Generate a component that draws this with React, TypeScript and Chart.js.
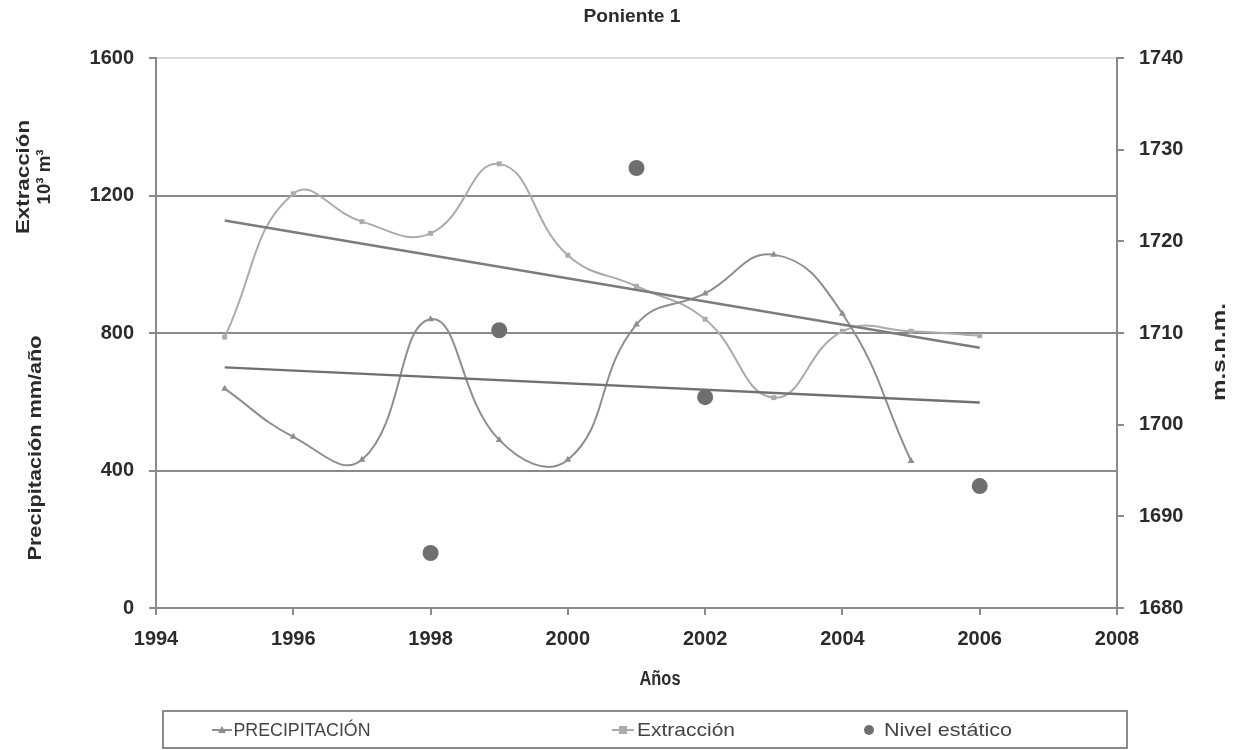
import React, { useEffect, useRef } from "react";
import { Chart, registerables } from "chart.js";

Chart.register(...registerables);

// ---- data ----
const precipYears = [1995, 1996, 1997, 1998, 1999, 2000, 2001, 2002, 2003, 2004, 2005];
const precipitacion = [638, 498, 431, 840, 489, 431, 825, 915, 1028, 856, 428];

const extraccionYears = [1995, 1996, 1997, 1998, 1999, 2000, 2001, 2002, 2003, 2004, 2005, 2006];
const extraccion = [788, 1205, 1124, 1090, 1292, 1026, 936, 840, 612, 805, 805, 792];

const nivelYears = [1998, 1999, 2001, 2002, 2006];
const nivelEstatico = [1686, 1710.3, 1728, 1703, 1693.3];

const trendYears = [1995, 2006];
const precipTrend = [700, 598];
const extraccionTrend = [1127, 757];

const xTicks = [1994, 1996, 1998, 2000, 2002, 2004, 2006, 2008];
const leftTicks = [0, 400, 800, 1200, 1600];
const rightTicks = [1680, 1690, 1700, 1710, 1720, 1730, 1740];

const TITLE = "Poniente 1";
const X_TITLE = "Años";
const LEFT_TITLE_1 = ["Extracción", "10³ m³"];
const LEFT_TITLE_2 = "Precipitación mm/año";
const RIGHT_TITLE = "m.s.n.m.";
const LEGEND = ["PRECIPITACIÓN", "Extracción", "Nivel estático"];

const pts = (xs: number[], ys: number[]) => xs.map((x, i) => ({ x, y: ys[i] }));

const C_PREC = "#8e8e8e";
const C_EXT = "#ababab";
const C_NIV = "#6f6f6f";
const C_TREND = "#7c7c7c";
const C_AXIS = "#8a8a8a";
const C_TEXT = "#2b2b2b";
const FONT = "'Liberation Sans', Arial, sans-serif";

function drawFit(
  ctx: CanvasRenderingContext2D,
  text: string,
  cx: number,
  cy: number,
  rot: number,
  font: string,
  width: number
) {
  ctx.save();
  ctx.font = font;
  ctx.textAlign = "center";
  ctx.textBaseline = "middle";
  const w = ctx.measureText(text).width;
  ctx.translate(cx, cy);
  ctx.rotate(rot);
  ctx.scale(width / w, 1);
  ctx.fillText(text, 0, 0);
  ctx.restore();
}

const decoPlugin = {
  id: "deco",
  afterDraw(chart: any) {
    const ctx = chart.ctx as CanvasRenderingContext2D;
    ctx.save();
    ctx.fillStyle = C_TEXT;
    const bold = `bold 19px ${FONT}`;
    drawFit(ctx, TITLE, 632, 17, 0, bold, 97);
    drawFit(ctx, X_TITLE, 660, 679, 0, `bold 20px ${FONT}`, 41);
    drawFit(ctx, LEFT_TITLE_1[0], 24, 177, -Math.PI / 2, bold, 114);
    drawFit(ctx, LEFT_TITLE_1[1], 45, 177, -Math.PI / 2, bold, 55);
    drawFit(ctx, LEFT_TITLE_2, 36, 448, -Math.PI / 2, bold, 225);
    drawFit(ctx, RIGHT_TITLE, 1220, 352, -Math.PI / 2, bold, 98);

    // legend box
    ctx.strokeStyle = C_AXIS;
    ctx.lineWidth = 2;
    ctx.strokeRect(163, 711, 964, 37);
    const ly = 730;
    ctx.fillStyle = "#444";
    // precip
    ctx.strokeStyle = C_PREC;
    ctx.lineWidth = 2;
    ctx.beginPath();
    ctx.moveTo(212, ly);
    ctx.lineTo(232, ly);
    ctx.stroke();
    ctx.fillStyle = C_PREC;
    ctx.beginPath();
    ctx.moveTo(222, ly - 4);
    ctx.lineTo(226, ly + 3);
    ctx.lineTo(218, ly + 3);
    ctx.closePath();
    ctx.fill();
    ctx.fillStyle = "#444";
    const lf = `19px ${FONT}`;
    drawFit(ctx, LEGEND[0], 234 + 68, ly + 1, 0, lf, 137);
    // extraccion
    ctx.strokeStyle = C_EXT;
    ctx.beginPath();
    ctx.moveTo(612, ly);
    ctx.lineTo(634, ly);
    ctx.stroke();
    ctx.fillStyle = C_EXT;
    ctx.fillRect(619, ly - 4, 8, 8);
    ctx.fillStyle = "#444";
    drawFit(ctx, LEGEND[1], 637 + 49, ly + 1, 0, lf, 98);
    // nivel
    ctx.fillStyle = C_NIV;
    ctx.beginPath();
    ctx.arc(869, ly, 5, 0, Math.PI * 2);
    ctx.fill();
    ctx.fillStyle = "#444";
    drawFit(ctx, LEGEND[2], 884 + 64, ly + 1, 0, lf, 128);
    ctx.restore();
  },
};

export default function App() {
  const ref = useRef<HTMLCanvasElement>(null);
  useEffect(() => {
    if (!ref.current) return;
    const tickFont = { family: FONT, size: 20, weight: "bold" as const };
    const chart = new Chart(ref.current, {
      type: "line",
      data: {
        datasets: [
          {
            label: "trendExt",
            data: pts(trendYears, extraccionTrend),
            borderColor: C_TREND,
            borderWidth: 2.5,
            pointRadius: 0,
            yAxisID: "y",
            tension: 0,
          },
          {
            label: "trendPrec",
            data: pts(trendYears, precipTrend),
            borderColor: "#707070",
            borderWidth: 2.5,
            pointRadius: 0,
            yAxisID: "y",
            tension: 0,
          },
          {
            label: LEGEND[0],
            data: pts(precipYears, precipitacion),
            borderColor: C_PREC,
            backgroundColor: C_PREC,
            borderWidth: 2,
            pointStyle: "triangle",
            pointRadius: 4,
            pointBorderWidth: 0,
            tension: 0.45,
            yAxisID: "y",
          },
          {
            label: LEGEND[1],
            data: pts(extraccionYears, extraccion),
            borderColor: C_EXT,
            backgroundColor: C_EXT,
            borderWidth: 2,
            pointStyle: "rect",
            pointRadius: 3.5,
            pointBorderWidth: 0,
            tension: 0.45,
            yAxisID: "y",
          },
          {
            label: LEGEND[2],
            data: pts(nivelYears, nivelEstatico),
            showLine: false,
            borderColor: C_NIV,
            backgroundColor: C_NIV,
            pointStyle: "circle",
            pointRadius: 8,
            pointBorderWidth: 0,
            yAxisID: "y2",
          },
        ],
      },
      options: {
        responsive: false,
        animation: false,
        devicePixelRatio: 1,
        layout: { padding: { top: 58, left: 0, right: 0, bottom: 0 } },
        plugins: { legend: { display: false }, title: { display: false }, tooltip: { enabled: false } },
        scales: {
          x: {
            type: "linear",
            min: xTicks[0],
            max: xTicks[xTicks.length - 1],
            afterBuildTicks: (s: any) => {
              s.ticks = xTicks.map((v) => ({ value: v }));
            },
            ticks: { callback: (v: any) => String(v), color: C_TEXT, font: tickFont, padding: 12, maxRotation: 0, autoSkip: false },
            grid: { drawOnChartArea: false, tickLength: 7, color: C_AXIS, lineWidth: 2 },
            border: { color: C_AXIS, width: 2 },
            afterFit: (s: any) => {
              s.height = 142;
            },
          },
          y: {
            position: "left",
            min: leftTicks[0],
            max: leftTicks[leftTicks.length - 1],
            afterBuildTicks: (s: any) => {
              s.ticks = leftTicks.map((v) => ({ value: v }));
            },
            ticks: { callback: (v: any) => String(v), color: C_TEXT, font: tickFont, padding: 15 },
            grid: {
              drawOnChartArea: true,
              tickLength: 7,
              lineWidth: 2,
              color: (c: any) =>
                c.tick && c.tick.value === leftTicks[0]
                  ? "rgba(0,0,0,0)"
                  : c.tick && c.tick.value === leftTicks[leftTicks.length - 1]
                  ? "#dcdcdc"
                  : C_AXIS,
              tickColor: C_AXIS,
            },
            border: { color: C_AXIS, width: 2 },
            afterFit: (s: any) => {
              s.width = 156;
            },
          },
          y2: {
            position: "right",
            min: rightTicks[0],
            max: rightTicks[rightTicks.length - 1],
            afterBuildTicks: (s: any) => {
              s.ticks = rightTicks.map((v) => ({ value: v }));
            },
            ticks: { callback: (v: any) => String(v), color: C_TEXT, font: tickFont, padding: 15 },
            grid: { drawOnChartArea: false, tickLength: 7, color: C_AXIS, lineWidth: 2 },
            border: { color: C_AXIS, width: 2 },
            afterFit: (s: any) => {
              s.width = 120;
            },
          },
        },
      },
      plugins: [decoPlugin],
    } as any);
    return () => chart.destroy();
  }, []);
  return (
    <div style={{ position: "absolute", left: 0, top: 0, width: 1237, height: 750, background: "#fff" }}>
      <canvas ref={ref} width={1237} height={750} style={{ display: "block" }} />
    </div>
  );
}
